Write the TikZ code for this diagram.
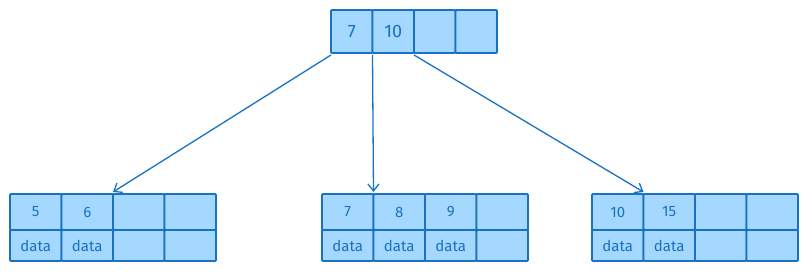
\documentclass[tikz,border=0pt]{standalone}
\usepackage{fontspec}
\setmainfont{Fira Sans}
\usetikzlibrary{arrows.meta}
\definecolor{stroke}{HTML}{1971C2}
\definecolor{cellfill}{HTML}{A5D8FF}
\tikzset{
  cell/.style={draw=stroke, fill=cellfill, line width=1.8pt, rounded corners=1pt,
    inner sep=0pt, outer sep=0pt, anchor=north west, text=stroke},
  topcell/.style={cell, minimum width=41.5pt, minimum height=43pt, font=\fontsize{18}{18}\selectfont},
  keycell/.style={cell, minimum width=51.5pt, minimum height=36pt, font=\fontsize{15}{15}\selectfont},
  datacell/.style={cell, minimum width=51.5pt, minimum height=31pt, font=\fontsize{15}{15}\selectfont},
  link/.style={draw=stroke, line width=1.3pt, -{Straight Barb[length=7pt,width=11pt,line width=1.3pt]}}
}
\begin{document}
\begin{tikzpicture}[x=1pt,y=-1pt]
\useasboundingbox (0,0) rectangle (807,272);
% top node
\node[topcell] (t1) at (331,10) {7};
\node[topcell] (t2) at (372.5,10) {10};
\node[topcell] (t3) at (414,10) {};
\node[topcell] (t4) at (455.5,10) {};
% left leaf
\node[keycell] (l1) at (10,194) {5};
\node[keycell] (l2) at (61.5,194) {6};
\node[keycell] (l3) at (113,194) {};
\node[keycell] (l4) at (164.5,194) {};
\node[datacell] (ld1) at (10,230) {data};
\node[datacell] (ld2) at (61.5,230) {data};
\node[datacell] (ld3) at (113,230) {};
\node[datacell] (ld4) at (164.5,230) {};
% middle leaf
\node[keycell] (m1) at (322,194) {7};
\node[keycell] (m2) at (373.5,194) {8};
\node[keycell] (m3) at (425,194) {9};
\node[keycell] (m4) at (476.5,194) {};
\node[datacell] (md1) at (322,230) {data};
\node[datacell] (md2) at (373.5,230) {data};
\node[datacell] (md3) at (425,230) {data};
\node[datacell] (md4) at (476.5,230) {};
% right leaf
\node[keycell] (r1) at (592,194) {10};
\node[keycell] (r2) at (643.5,194) {15};
\node[keycell] (r3) at (695,194) {};
\node[keycell] (r4) at (746.5,194) {};
\node[datacell] (rd1) at (592,230) {data};
\node[datacell] (rd2) at (643.5,230) {data};
\node[datacell] (rd3) at (695,230) {};
\node[datacell] (rd4) at (746.5,230) {};
% links
\draw[link] ([yshift=-2pt]t1.south west) -- ([yshift=2pt]l2.north east);
\draw[link] ([yshift=-2pt]t1.south east) -- ([yshift=2pt]m1.north east);
\draw[link] ([yshift=-2pt]t2.south east) -- ([yshift=2pt]r1.north east);
\end{tikzpicture}
\end{document}
